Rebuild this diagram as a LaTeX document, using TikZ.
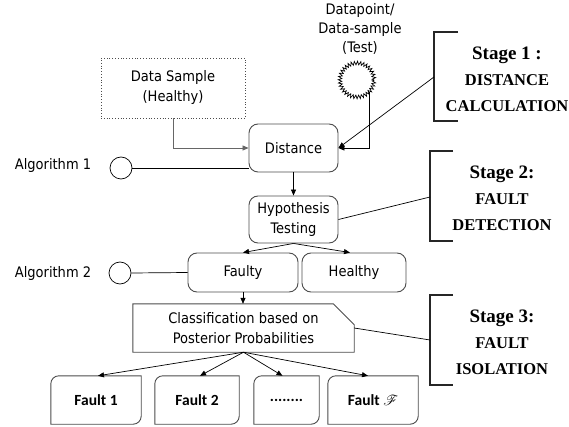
\documentclass[tikz,border=0pt]{standalone}
\usepackage{fontspec}
\setmainfont{DejaVu Sans Condensed}
\newfontfamily\stagefont{Liberation Serif}
\newfontfamily\faultfont{Carlito}
\usepackage{mathrsfs}
\usetikzlibrary{arrows.meta,decorations.pathmorphing}
\newcommand\stagehead{\fontsize{19}{26}\selectfont}

\begin{document}
\begin{tikzpicture}[x=1pt,y=-1pt,
  lbl/.style={font=\fontsize{14.5}{20}\selectfont, align=center, inner sep=0pt},
  boxline/.style={draw=black!70, line width=0.9pt},
  box/.style={lbl, boxline, rounded corners=9pt},
  flbl/.style={font=\faultfont\bfseries\fontsize{15.5}{18}\selectfont, inner sep=0pt},
  arr/.style={-{Triangle[length=6pt,width=5pt]}, line width=0.7pt},
  link/.style={line width=0.7pt},
  bracket/.style={line width=1.6pt, black!85},
  stage/.style={font=\stagefont\bfseries\fontsize{16.5}{26}\selectfont, align=center, inner sep=0pt},
  ring/.style={draw, line width=0.7pt, circle, inner sep=0pt, minimum size=22pt}
]
\useasboundingbox (0,0) rectangle (569,427);

% inputs
\node[lbl, draw=black!70, dotted, line width=0.8pt, minimum width=144pt, minimum height=60pt] (ds) at (173,88) {Data Sample\\(Healthy)};
\node[lbl, font=\fontsize{14.5}{19}\selectfont] (tt) at (360,29) {Datapoint/\\Data-sample\\(Test)};
\node[draw, line width=0.7pt, circle, inner sep=0pt, minimum size=34pt,
      decorate, decoration={zigzag, amplitude=1.8pt, segment length=3pt}] (tc) at (357,80) {};

% main flow
\node[box, minimum width=89pt, minimum height=48pt] (dist) at (293.5,148) {Distance};
\node[box, minimum width=89pt, minimum height=47pt] (hyp) at (293.5,219.5) {Hypothesis\\Testing};
\node[box, minimum width=110pt, minimum height=39pt] (fy) at (243,272.5) {Faulty};
\node[box, minimum width=104pt, minimum height=39pt] (he) at (354,272.5) {Healthy};

% classification box with a clipped corner
\node[lbl, minimum width=221pt, minimum height=48pt] (cls) at (243.5,328) {Classification based on\\Posterior Probabilities};
\draw[boxline] (cls.south west) -- (cls.north west) -- ([xshift=-21pt]cls.north east)
  -- ([yshift=-21pt]cls.north east) -- (cls.south east) -- cycle;

% fault classes
\node[flbl, minimum width=90pt, minimum height=48pt] (f1) at (96,400) {Fault 1};
\node[flbl, minimum width=84pt, minimum height=48pt] (f2) at (197,400) {Fault 2};
\node[flbl, minimum width=65pt, minimum height=48pt] (f3) at (286.5,400) {........};
\node[flbl, minimum width=90pt, minimum height=48pt] (f4) at (373,400) {Fault $\mathscr{F}$};
\foreach \n in {f1,f2,f3,f4}{
  \draw[boxline] (\n.south west) -- ([yshift=-8pt]\n.north west)
    arc[start angle=180, end angle=90, radius=8pt] -- (\n.north east)
    -- ([yshift=8pt]\n.south east) arc[start angle=0, end angle=-90, radius=8pt] -- cycle;
}

% algorithm markers
\node[lbl] (a1) at (53,166) {Algorithm 1};
\node[ring] (c1) at (121,168) {};
\node[lbl] (a2) at (53,273) {Algorithm 2};
\node[ring] (c2) at (120,273) {};

% stage brackets
\node[stage] (s1) at (507,79) {{\stagehead Stage 1 :}\\DISTANCE\\CALCULATION};
\node[stage] (s2) at (502,198) {{\stagehead Stage 2:}\\FAULT\\DETECTION};
\node[stage] (s3) at (502,342) {{\stagehead Stage 3:}\\FAULT\\ISOLATION};
\draw[bracket] (458,32) -- (434,32) -- (434,121) -- (458,121);
\draw[bracket] (453,151) -- (430,151) -- (430,241) -- (453,241);
\draw[bracket] (453,295) -- (430,295) -- (430,385) -- (453,385);
\coordinate (b1) at (434,77);
\coordinate (b2) at (430,197);
\coordinate (b3) at (430,340);

% connectors
\draw[arr, draw=black!60] (ds.south) |- (dist.west);
\draw[arr] (tc.-45) |- (dist.east);
\draw[arr] (b1) -- (dist.east);
\draw[arr] (dist.south) -- (hyp.north);
\draw[arr] (hyp.south) -- (fy.north);
\draw[arr] (hyp.south) -- ([xshift=-4pt]he.north);
\draw[arr] (fy.south) -- (fy.south |- cls.north);
\draw[arr] (cls.south) -- ([xshift=2pt]f1.north);
\draw[arr] (cls.south) -- ([xshift=3pt]f2.north);
\draw[arr] (cls.south) -- ([xshift=-4pt]f3.north);
\draw[arr] (cls.south) -- ([xshift=-5pt]f4.north);
\draw[link] (c1.east) -- (c1.east -| dist.west);
\draw[link] (c2.east) -- (fy.west);
\draw[link] (hyp.east) -- (b2);
\draw[link] (cls.east) -- (b3);
\end{tikzpicture}
\end{document}
